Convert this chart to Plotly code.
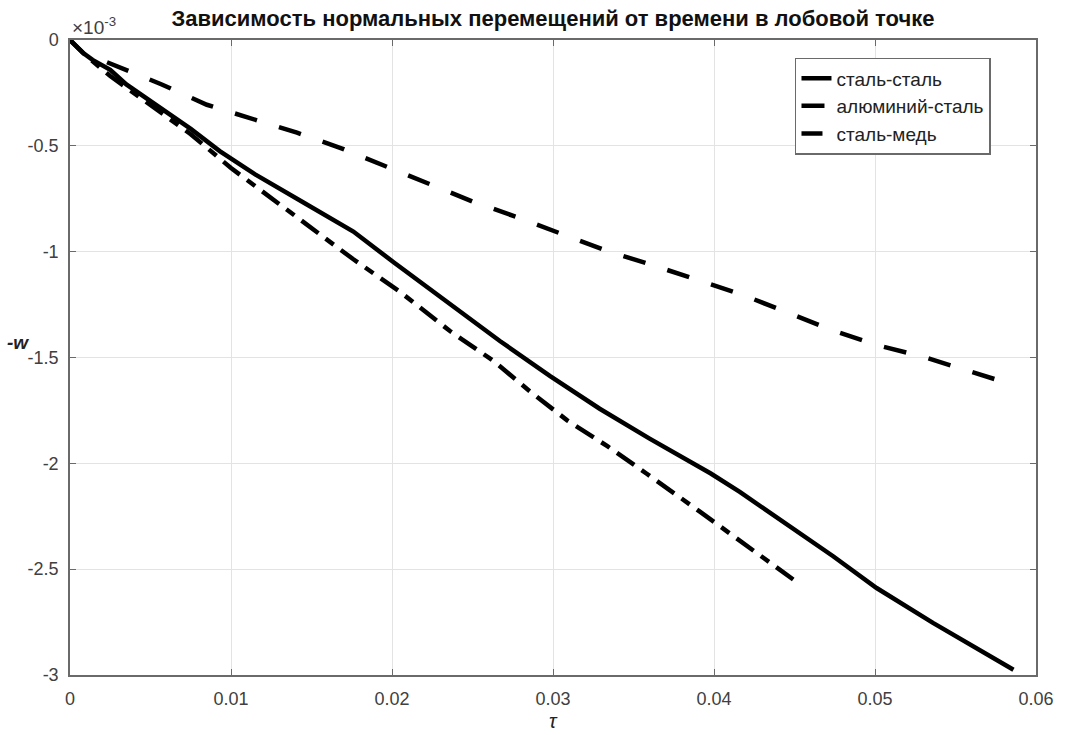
import plotly.graph_objects as go

# Data (w in units of 1e-3)
tau_ss = [0, 0.0008, 0.0014, 0.0025, 0.0035, 0.005, 0.0075, 0.0093, 0.0115, 0.0145, 0.0176,
          0.0201, 0.0237, 0.0267, 0.0298, 0.0329, 0.036, 0.0398, 0.0416, 0.0474, 0.0501, 0.0536, 0.0586]
w_ss = [0, -0.06, -0.094, -0.141, -0.21, -0.29, -0.42, -0.525, -0.635, -0.768, -0.905,
        -1.05, -1.252, -1.422, -1.587, -1.742, -1.883, -2.048, -2.135, -2.439, -2.589, -2.754, -2.975]

tau_as = [0.0023, 0.0057, 0.0085, 0.0112, 0.0141, 0.0169, 0.0196, 0.0223, 0.025, 0.0278,
          0.0306, 0.0334, 0.0362, 0.039, 0.0418, 0.0445, 0.0473, 0.0501, 0.053, 0.0558, 0.0586]
w_as = [-0.105, -0.21, -0.306, -0.372, -0.438, -0.513, -0.598, -0.683, -0.763, -0.838,
        -0.918, -0.998, -1.064, -1.135, -1.205, -1.285, -1.37, -1.441, -1.497, -1.563, -1.63]

tau_sc = [0, 0.001, 0.0025, 0.005, 0.0075, 0.01, 0.013, 0.0153, 0.0176, 0.0205, 0.0236, 0.0263,
          0.0286, 0.0309, 0.0334, 0.0358, 0.0391, 0.0453]
w_sc = [0, -0.075, -0.17, -0.31, -0.445, -0.605, -0.777, -0.909, -1.036, -1.19, -1.375, -1.516,
        -1.662, -1.798, -1.92, -2.048, -2.227, -2.57]

series_names = ["сталь-сталь", "алюминий-сталь", "сталь-медь"]
x_ticks = [0, 0.01, 0.02, 0.03, 0.04, 0.05, 0.06]
x_tick_text = ["0", "0.01", "0.02", "0.03", "0.04", "0.05", "0.06"]
y_ticks = [0, -0.5, -1, -1.5, -2, -2.5, -3]
y_tick_text = ["0", "-0.5", "-1", "-1.5", "-2", "-2.5", "-3"]

FONT = "Liberation Sans, Arial, sans-serif"
AX = "#6a6a6a"
TXT = "#404040"

fig = go.Figure()
fig.add_trace(go.Scatter(x=tau_ss, y=w_ss, mode="lines", name=series_names[0],
                         line=dict(color="black", width=4.5)))
fig.add_trace(go.Scatter(x=tau_as, y=w_as, mode="lines", name=series_names[1],
                         line=dict(color="black", width=4.5, dash="23px,23px")))
fig.add_trace(go.Scatter(x=tau_sc, y=w_sc, mode="lines", name=series_names[2],
                         line=dict(color="black", width=4.5, dash="21px,9px,10px,9px")))

axis_common = dict(showline=True, linecolor=AX, linewidth=1.5, mirror="allticks",
                   ticks="inside", ticklen=6, tickcolor=AX, tickwidth=1,
                   showgrid=True, gridcolor="#e3e3e3", gridwidth=1, zeroline=False,
                   tickfont=dict(family=FONT, size=18, color=TXT))

fig.update_xaxes(range=[0, 0.06], tickvals=x_ticks, ticktext=x_tick_text,
                 ticklabelstandoff=7, **axis_common)
fig.update_yaxes(range=[-3, 0], tickvals=y_ticks, ticktext=y_tick_text,
                 ticklabelstandoff=6, **axis_common)

fig.update_layout(
    width=1065, height=735,
    margin=dict(l=70, r=29, t=40, b=60),
    paper_bgcolor="white", plot_bgcolor="white",
    title=dict(text="<b>Зависимость нормальных перемещений от времени в лобовой точке</b>",
               x=(70 + 1036) / 2 / 1065, xanchor="center", y=1 - 18 / 735, yanchor="middle",
               font=dict(family=FONT, size=22, color="#111111")),
    showlegend=True,
    legend=dict(x=0.7505, y=0.972, xanchor="left", yanchor="top",
                bgcolor="white", bordercolor=AX, borderwidth=1.5,
                font=dict(family=FONT, size=19, color="#222222"),
                tracegroupgap=0, itemwidth=30),
    annotations=[
        dict(text="×10<sup>-3</sup>", xref="paper", yref="paper", x=0, y=1,
             xanchor="left", yanchor="bottom", showarrow=False,
             font=dict(family=FONT, size=19, color=TXT)),
        dict(text="<b><i>-w</i></b>", xref="paper", yref="paper",
             x=-52 / 966, y=1 - (343 - 40) / 635, xanchor="center", yanchor="middle",
             showarrow=False, font=dict(family=FONT, size=19, color="#222222")),
        dict(text="<i>τ</i>", xref="paper", yref="paper",
             x=0.5, y=-(721 - 675) / 635, xanchor="center", yanchor="middle",
             showarrow=False, font=dict(family=FONT, size=20, color="#222222")),
    ],
)

fig.write_html("out.html")
